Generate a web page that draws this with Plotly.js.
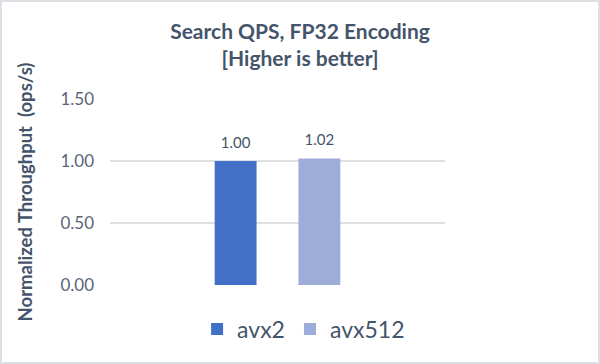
<!DOCTYPE html>
<html>
<head>
<meta charset="utf-8">
<script src="https://cdn.plot.ly/plotly-3.0.1.min.js"></script>
<style>
  html, body { margin: 0; padding: 0; background: #fff; }
  #wrap { position: relative; width: 600px; height: 364px; }
  #chart { width: 600px; height: 364px; }
  #frame { position: absolute; left: 0; top: 0; width: 600px; height: 364px;
           box-sizing: border-box; border: 2px solid #DCDFE4; pointer-events: none; }
</style>
</head>
<body>
<div id="wrap"><div id="chart"></div><div id="frame"></div></div>
<script>
// ---- data ----
const categories = [""];
const seriesNames = ["avx2", "avx512"];
const avx2Values = [1.00];
const avx512Values = [1.02];
const yTickValues = [0, 0.5, 1.0, 1.5];

const FONT = "Lato, 'Open Sans', sans-serif";
const TXT = "#44546A";

function barTrace(name, values, color) {
  return {
    type: "bar",
    name: name,
    x: categories,
    y: values,
    marker: { color: color },
    hoverinfo: "none"
  };
}

function labelTrace(name, values) {
  return {
    type: "scatter",
    mode: "markers+text",
    name: name + " labels",
    x: categories,
    y: values,
    text: values.map(v => v.toFixed(2)),
    textposition: "top center",
    textfont: { family: FONT, size: 15, color: TXT },
    marker: { size: 14, opacity: 0 },
    cliponaxis: false,
    showlegend: false,
    hoverinfo: "none"
  };
}

const traces = [
  barTrace(seriesNames[0], avx2Values, "#4170C6"),
  barTrace(seriesNames[1], avx512Values, "#9DACD9"),
  labelTrace(seriesNames[0], avx2Values),
  labelTrace(seriesNames[1], avx512Values)
];

const layout = {
  width: 600,
  height: 364,
  paper_bgcolor: "#ffffff",
  plot_bgcolor: "#ffffff",
  margin: { l: 110, r: 155, t: 99, b: 79 },
  barmode: "group",
  bargap: 0.5,
  bargroupgap: 0.5,
  scattermode: "group",
  scattergap: 0.5,
  showlegend: true,
  title: {
    text: "<b>Search QPS, FP32 Encoding<br>[Higher is better]</b>",
    font: { family: FONT, size: 21, color: TXT },
    x: 0.5, xanchor: "center", xref: "container",
    y: 0.893, yanchor: "top", yref: "container"
  },
  xaxis: {
    type: "category",
    showgrid: false,
    showline: false,
    zeroline: false,
    showticklabels: false,
    fixedrange: true
  },
  yaxis: {
    range: [0, 1.5],
    tickvals: yTickValues,
    tickformat: ".2f",
    showgrid: true,
    gridcolor: "#DDE0E4",
    gridwidth: 1.5,
    zeroline: false,
    showline: false,
    ticks: "",
    ticklabelstandoff: 15,
    tickfont: { family: FONT, size: 17, color: "#5A6477" },
    title: {
      text: "<b>Normalized Throughput  (ops/s)</b>",
      font: { family: FONT, size: 18.5, color: TXT },
      standoff: 22
    },
    automargin: false,
    fixedrange: true
  },
  legend: {
    orientation: "h",
    x: 0.506, xanchor: "center", xref: "container",
    y: 0.096, yanchor: "middle", yref: "container",
    font: { family: FONT, size: 23, color: TXT },
    itemwidth: 30,
    bgcolor: "rgba(0,0,0,0)"
  }
};

Plotly.newPlot("chart", traces, layout, { displayModeBar: false, staticPlot: true });
</script>
</body>
</html>
